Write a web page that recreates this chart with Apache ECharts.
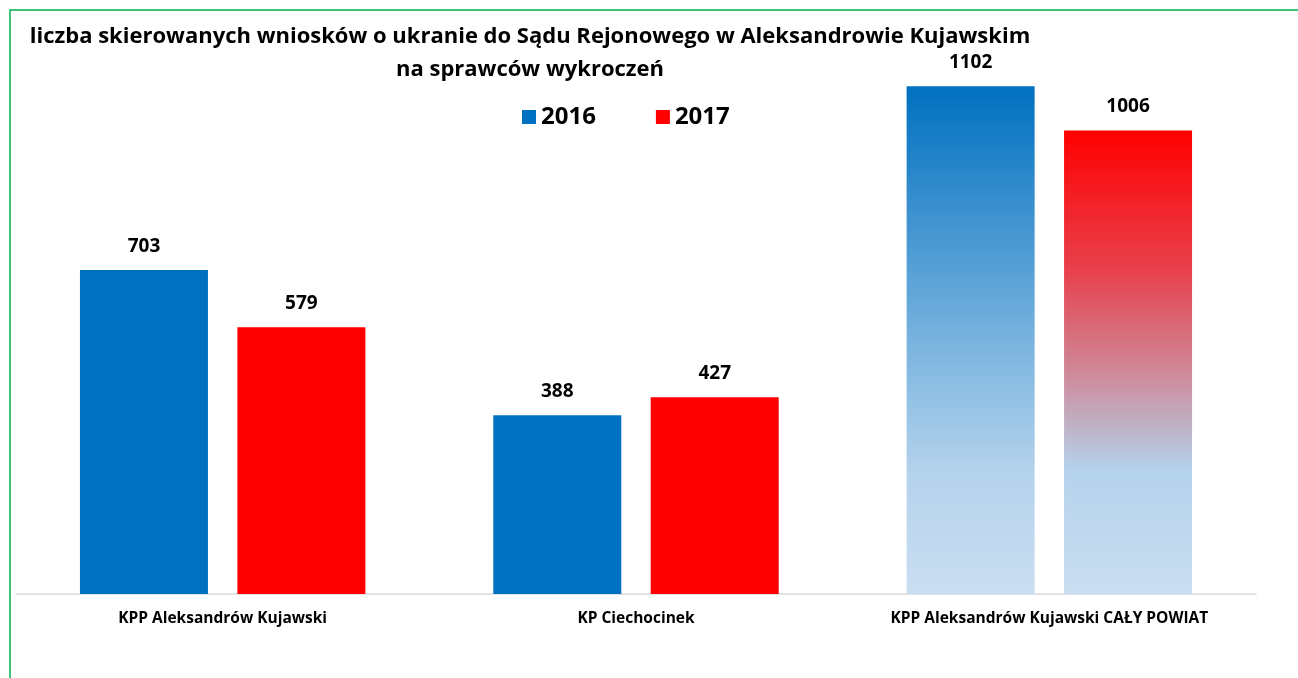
<!DOCTYPE html>
<html>
<head>
<meta charset="utf-8">
<script src="https://cdn.jsdelivr.net/npm/echarts@6/dist/echarts.min.js"></script>
<style>
  html, body { margin: 0; padding: 0; background: #fff; }
  #chart { width: 1298px; height: 678px; }
</style>
</head>
<body>
<div id="chart"></div>
<script>
const categories = ['KPP Aleksandrów Kujawski', 'KP Ciechocinek', 'KPP Aleksandrów Kujawski CAŁY POWIAT'];
const years = ['2016', '2017'];
const values2016 = [703, 388, 1102];
const values2017 = [579, 427, 1006];

const font = '"Open Sans", "Noto Sans", sans-serif';

// last category uses a faded gradient fill
function fade(top, mid) {
  return new echarts.graphic.LinearGradient(0, 0, 0, 1, [
    { offset: 0, color: top },
    ...mid,
    { offset: 1, color: '#CADEF1' }
  ]);
}
const blueFade = fade('#0070C0', [
  { offset: 0.58, color: '#8BBDE3' },
  { offset: 0.76, color: '#B4D2EC' }
]);
const redFade = fade('#FF0000', [
  { offset: 0.3, color: '#E8404C' },
  { offset: 0.54, color: '#CC8F9F' },
  { offset: 0.73, color: '#B4D2EC' }
]);

function withFade(values, grad) {
  return values.map((v, i) => i === values.length - 1 ? { value: v, itemStyle: { color: grad } } : v);
}

const labelStyle = {
  show: true,
  position: 'top',
  distance: 14,
  color: '#000',
  fontFamily: font,
  fontWeight: 'bold',
  fontSize: 19
};

const chart = echarts.init(document.getElementById('chart'));
chart.setOption({
  backgroundColor: '#fff',
  animation: false,
  title: {
    text: 'liczba skierowanych wniosków o ukranie do Sądu Rejonowego w Aleksandrowie Kujawskim\nna sprawców wykroczeń',
    left: 525,
    top: 15,
    textAlign: 'center',
    textStyle: {
      fontFamily: font,
      fontWeight: 'bold',
      fontSize: 22,
      lineHeight: 33,
      color: '#000'
    }
  },
  legend: {
    data: years,
    left: 517,
    top: 100,
    itemWidth: 14,
    itemHeight: 14,
    itemGap: 60,
    icon: 'rect',
    textStyle: {
      fontFamily: font,
      fontWeight: 'bold',
      fontSize: 24,
      color: '#000'
    }
  },
  grid: { left: 16, right: 42, top: 41, bottom: 84 },
  xAxis: {
    type: 'category',
    data: categories,
    axisLine: { lineStyle: { color: '#D9D9D9', width: 1.5 } },
    axisTick: { show: false },
    axisLabel: {
      interval: 0,
      hideOverlap: false,
      margin: 17,
      color: '#000',
      fontFamily: font,
      fontWeight: 'bold',
      fontSize: 15.5
    }
  },
  yAxis: {
    type: 'value',
    min: 0,
    max: 1200,
    show: false
  },
  series: [
    {
      name: '2016',
      type: 'bar',
      barWidth: 128,
      barGap: '23%',
      itemStyle: { color: '#0070C0' },
      label: labelStyle,
      data: withFade(values2016, blueFade)
    },
    {
      name: '2017',
      type: 'bar',
      barWidth: 128,
      itemStyle: { color: '#FF0000' },
      label: labelStyle,
      data: withFade(values2017, redFade)
    }
  ],
  graphic: [
    {
      type: 'rect',
      shape: { x: 10, y: 10, width: 1300, height: 700 },
      style: { fill: 'none', stroke: '#00B050', lineWidth: 1.5 },
      silent: true
    }
  ]
});
</script>
</body>
</html>
